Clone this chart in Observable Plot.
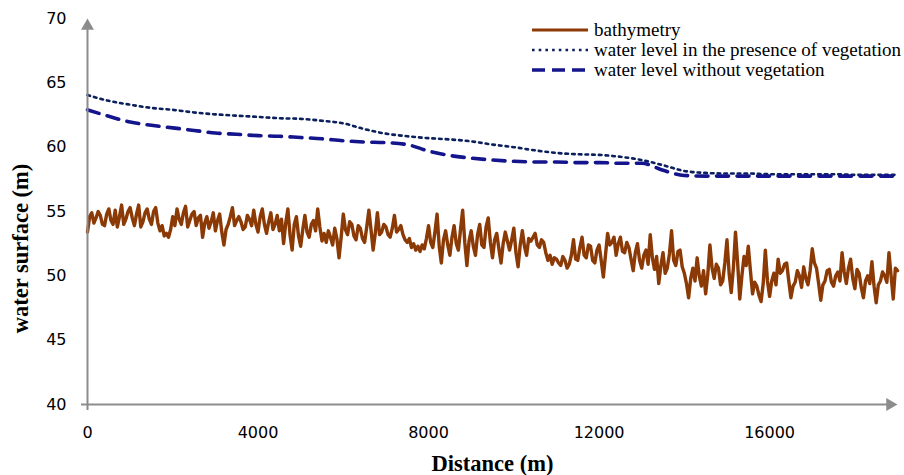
<!DOCTYPE html>
<html>
<head>
<meta charset="utf-8">
<script src="https://cdn.jsdelivr.net/npm/d3@7"></script>
<script src="https://cdn.jsdelivr.net/npm/@observablehq/plot@0.6"></script>
<style>
  html, body { margin: 0; padding: 0; background: #fff; }
  #wrap { position: relative; width: 904px; height: 475px; }
  #legend { position: absolute; left: 532px; top: 20px; font-family: "Liberation Serif", serif; font-size: 19px; color: #000; }
  #legend .row { display: flex; align-items: center; height: 20px; white-space: nowrap; }
  #legend svg { margin-right: 5px; }
</style>
</head>
<body>
<div id="wrap"><div id="legend"></div></div>
<script>
// ---- data ----
const seriesNames = ["bathymetry", "water level in the presence of vegetation", "water level without vegetation"];
const seriesColors = ["#8B3A06", "#0B1F5C", "#14148C"];

// bathymetry (m), one value every 50 m from 0 to 19000 m
const bathyStep = 50;
const bathymetry = [
  53.4, 54.6, 54.9, 54.1, 54.5, 55.0, 54.7, 54.0, 53.9, 54.8, 55.2, 54.3, 54.0, 55.1, 53.8, 54.6, 55.5, 54.0, 54.4, 55.0,
  55.3, 54.5, 53.9, 54.8, 55.5, 53.8, 54.2, 54.9, 55.2, 54.4, 54.0, 55.0, 55.3, 54.1, 53.5, 53.9, 53.1, 53.3, 53.0, 53.6,
  54.6, 53.9, 55.2, 54.4, 54.0, 54.9, 55.4, 53.8, 54.3, 54.8, 55.0, 53.9, 54.5, 54.7, 53.0, 54.1, 54.6, 53.7, 54.2, 54.9,
  53.5, 54.3, 54.8, 53.4, 52.4, 53.6, 54.0, 54.6, 55.3, 53.9, 54.3, 54.6, 54.2, 53.6, 53.8, 54.7, 54.4, 53.9, 55.1, 54.0,
  53.4, 54.6, 55.2, 54.0, 53.3, 54.2, 54.9, 53.6, 54.0, 54.7, 53.5, 54.4, 52.5, 54.1, 55.2, 53.2, 52.0, 54.0, 54.6, 53.1,
  52.3, 53.6, 54.7, 53.4, 53.0, 54.0, 54.3, 53.5, 55.2, 53.8, 52.7, 53.3, 52.6, 53.5, 53.0, 52.4, 53.7, 52.9, 51.4, 53.0,
  54.8, 53.6, 53.2, 54.2, 54.0, 53.1, 52.8, 53.9, 53.7, 52.9, 52.6, 53.8, 55.1, 53.6, 52.0, 53.3, 54.9, 53.2, 53.4, 54.0,
  53.8, 53.2, 53.0, 53.7, 54.7, 53.4, 53.6, 53.9, 53.2, 52.8, 52.6, 52.9, 52.2, 52.5, 52.0, 52.3, 51.9, 52.4, 52.1, 52.9,
  53.9, 52.6, 52.2, 53.4, 54.8, 52.3, 51.0, 52.8, 53.5, 52.4, 51.6, 53.0, 53.9, 52.5, 52.0, 53.6, 55.1, 52.6, 50.8, 52.7,
  53.5, 52.3, 51.6, 53.2, 54.0, 52.4, 52.2, 53.8, 54.5, 52.6, 51.4, 52.8, 53.3, 52.1, 51.0, 52.5, 53.4, 52.7, 52.0, 52.8,
  53.7, 51.8, 50.7, 52.4, 53.5, 52.3, 51.6, 52.9, 52.7, 53.0, 53.3, 52.4, 52.2, 52.8, 52.6, 51.8, 51.2, 51.6, 50.9, 51.4,
  51.3, 51.0, 50.8, 51.5, 51.2, 50.6, 50.9, 51.6, 52.8, 51.3, 51.2, 52.2, 53.0, 51.6, 51.4, 52.4, 52.3, 51.2, 51.0, 52.0,
  52.4, 51.2, 49.9, 51.6, 53.3, 52.4, 52.6, 53.0, 51.6, 52.5, 53.0, 51.9, 51.8, 52.6, 52.2, 51.3, 50.4, 51.8, 52.5, 51.2,
  50.6, 51.6, 52.0, 50.9, 53.2, 51.4, 50.5, 51.5, 49.4, 50.8, 51.8, 50.2, 50.6, 51.7, 53.5, 51.2, 50.8, 51.9, 52.0, 50.7,
  50.2, 49.4, 48.3, 49.8, 50.6, 49.6, 51.4, 50.0, 49.2, 50.4, 48.6, 50.1, 52.4, 50.6, 49.8, 50.9, 50.6, 49.3, 49.6, 51.0,
  52.8, 50.2, 48.7, 50.6, 53.4, 51.0, 48.2, 50.0, 51.5, 50.8, 52.3, 50.4, 48.6, 49.5, 49.2, 48.5, 48.0, 49.4, 52.0, 49.6,
  48.4, 49.6, 50.2, 49.3, 51.3, 50.2, 50.4, 50.9, 51.0, 49.6, 48.3, 49.2, 49.5, 50.4, 50.0, 49.1, 50.7, 49.8, 49.3, 50.4,
  52.1, 51.0, 50.6, 49.4, 48.1, 49.3, 49.6, 50.4, 50.5, 49.5, 49.2, 50.0, 50.3, 49.6, 51.8, 50.3, 49.4, 50.6, 51.3, 49.8,
  49.0, 50.5, 50.2, 49.1, 48.3, 49.6, 50.0, 49.4, 51.1, 49.2, 47.9, 49.3, 49.6, 50.3, 50.0, 49.5, 51.8, 50.0, 48.2, 50.6,
  50.4
];

// water levels (m), one value every 500 m from 0 to 19000 m
const levelStep = 500;
const levelWithVeg = [
  64.05, 63.6, 63.3, 63.05, 62.9, 62.7, 62.55, 62.45, 62.35, 62.25,
  62.2, 62.05, 61.85, 61.4, 61.05, 60.85, 60.7, 60.6, 60.45, 60.2,
  60.0, 59.75, 59.55, 59.45, 59.4, 59.25, 59.0, 58.6, 58.15, 58.0,
  57.95, 57.95, 57.9, 57.9, 57.9, 57.9, 57.85, 57.85, 57.85
];
const levelNoVeg = [
  62.9, 62.4, 61.95, 61.7, 61.5, 61.3, 61.1, 61.0, 60.9, 60.85,
  60.75, 60.65, 60.5, 60.4, 60.35, 60.2, 59.7, 59.35, 59.15, 59.0,
  58.9, 58.85, 58.85, 58.8, 58.8, 58.75, 58.75, 58.2, 57.8, 57.75,
  57.75, 57.75, 57.75, 57.75, 57.75, 57.75, 57.75, 57.75, 57.75
];

const xTicks = [0, 4000, 8000, 12000, 16000];
const yTicks = [40, 45, 50, 55, 60, 65, 70];
const xDomain = [0, 19000];
const yDomain = [40, 70];

// ---- tables ----
const bathyData = bathymetry.map((v, i) => ({x: i * bathyStep, y: v}));
const vegData = levelWithVeg.map((v, i) => ({x: i * levelStep, y: v}));
const noVegData = levelNoVeg.map((v, i) => ({x: i * levelStep, y: v}));

const axisGray = "#8C8C8C";
const serif = "'Liberation Serif', 'Times New Roman', serif";
const sans = "'DejaVu Sans', sans-serif";

const chart = Plot.plot({
  width: 904,
  height: 475,
  marginLeft: 87,
  marginRight: 7,
  marginTop: 18,
  marginBottom: 71,
  style: {fontFamily: sans, background: "#fff", overflow: "visible"},
  x: {domain: xDomain, axis: null},
  y: {domain: yDomain, axis: null},
  marks: [
    Plot.axisX({ticks: xTicks, tickSize: 0, tickPadding: 22, fontSize: 16, label: null, tickFormat: d => String(d), fill: "#000"}),
    Plot.text(yTicks, {y: d => d, text: d => String(d), frameAnchor: "left", dx: -21, textAnchor: "end", lineAnchor: "middle", fontSize: 16, fontFamily: sans, fill: "#000"}),
    Plot.line(bathyData, {x: "x", y: "y", stroke: seriesColors[0], strokeWidth: 3.4, strokeLinejoin: "round"}),
    Plot.line(vegData, {x: "x", y: "y", curve: "monotone-x", stroke: seriesColors[1], strokeWidth: 2.6, strokeDasharray: "2.6,4.1"}),
    Plot.line(noVegData, {x: "x", y: "y", curve: "monotone-x", stroke: seriesColors[2], strokeWidth: 3.6, strokeDasharray: "12,8.5"}),
    // axes with arrowheads
    Plot.ruleX([xDomain[0]], {y1: yDomain[0], y2: yDomain[1], stroke: axisGray, strokeWidth: 2, dy: 6}),
    Plot.ruleY([yDomain[0]], {x1: xDomain[0], x2: xDomain[1], stroke: axisGray, strokeWidth: 2, dx: -6}),
    Plot.dot([{x: xDomain[0], y: yDomain[1]}], {x: "x", y: "y", symbol: "triangle", r: 4.8, fill: axisGray, stroke: "none", dy: 7.5}),
    Plot.dot([{x: xDomain[1], y: yDomain[0]}], {x: "x", y: "y", symbol: "triangle", r: 4.8, fill: axisGray, stroke: "none", rotate: 90, dx: -7.5}),
    // axis titles
    Plot.text(["Distance (m)"], {frameAnchor: "bottom", dy: 59, fontFamily: serif, fontWeight: "bold", fontSize: 22.5, fill: "#000", lineAnchor: "middle"}),
    Plot.text(["water surface (m)"], {frameAnchor: "left", dx: -67, dy: 37, rotate: -90, textAnchor: "middle", fontFamily: serif, fontWeight: "bold", fontSize: 22.5, fill: "#000", lineAnchor: "middle"})
  ]
});
document.getElementById("wrap").prepend(chart);

// legend
const dashes = [null, "2.6,4.1", "13,7"];
const widths = [3, 2.6, 3.6];
const legend = d3.select("#legend");
seriesNames.forEach((name, i) => {
  const row = legend.append("div").attr("class", "row");
  const svg = row.append("svg").attr("width", 57).attr("height", 10);
  svg.append("line").attr("x1", 0).attr("x2", 56).attr("y1", 5).attr("y2", 5)
    .attr("stroke", seriesColors[i]).attr("stroke-width", widths[i])
    .attr("stroke-dasharray", dashes[i]);
  row.append("span").text(name);
});
</script>
</body>
</html>
